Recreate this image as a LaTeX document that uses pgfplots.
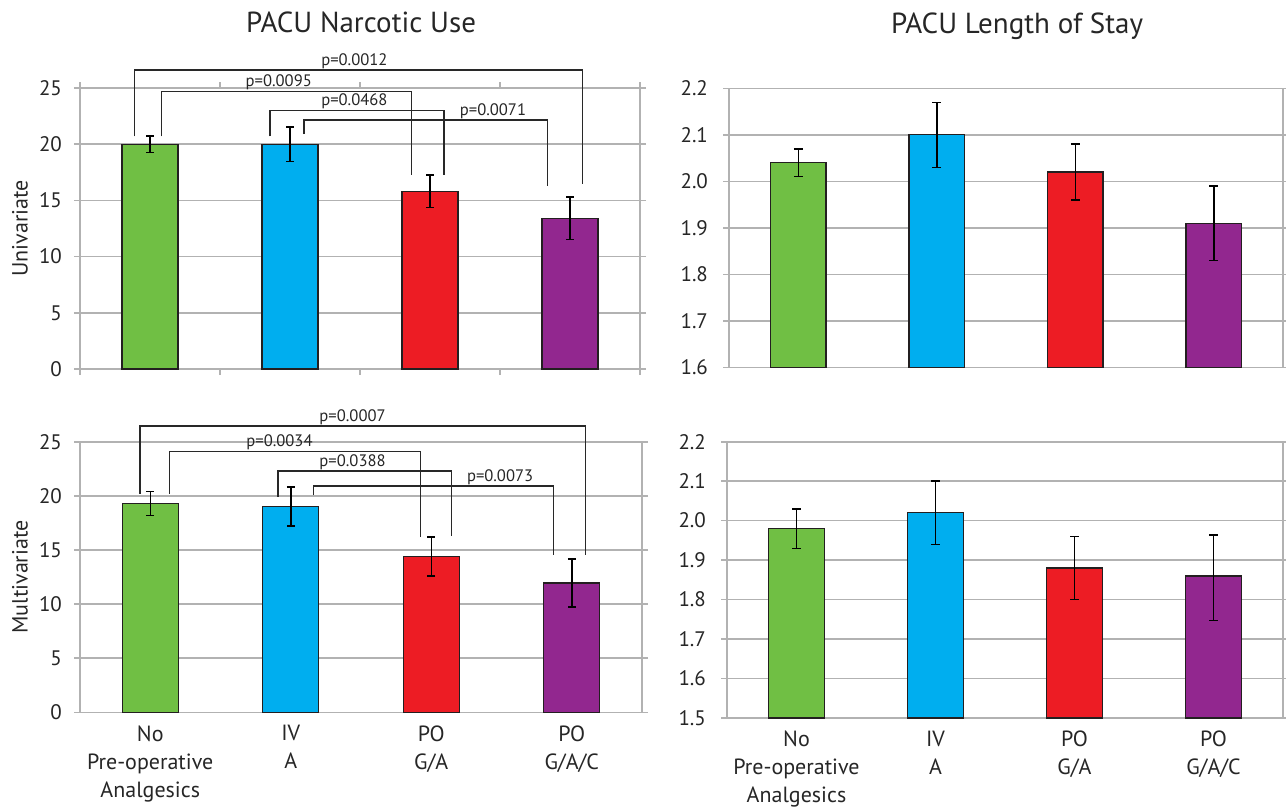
\documentclass[border=0pt]{standalone}
\usepackage{pgfplots}
\pgfplotsset{compat=1.18}
\usepackage{fontspec}
\setmainfont{PT Sans}
\definecolor{cgreen}{RGB}{112,191,68}
\definecolor{cblue}{RGB}{0,174,239}
\definecolor{cred}{RGB}{237,28,36}
\definecolor{cpurple}{RGB}{146,39,143}
\definecolor{cgrid}{RGB}{178,178,178}
\definecolor{cedge}{RGB}{35,31,32}
\definecolor{cbr}{RGB}{40,40,40}

\pgfplotsset{
  panel/.style={
    scale only axis, anchor=south west,
    xmin=-0.5, xmax=3.5,
    ybar, bar shift=0pt, bar width=0.4,
    axis line style={cgrid, line width=0.8pt},
    ymajorgrids, grid style={cgrid, line width=0.8pt},
    tick align=outside,
    major tick length=3pt,
    ytick style={cgrid, line width=0.8pt},
    xtick={-0.5,0.5,1.5,2.5,3.5}, xticklabels={},
    xtick style={cgrid, line width=0.8pt},
    ticklabel style={font=\fontsize{10.5}{12}\selectfont, text=black!85},
    /pgf/number format/assume math mode=true,
    error bars/y dir=both, error bars/y explicit,
    error bars/error bar style={black, line width=0.75pt},
    error bars/error mark options={rotate=90, mark size=1.9pt, line width=0.75pt, black},
  },
  cats/.style={
    extra x ticks={0,1,2,3},
    extra x tick labels={{No\\Pre-operative\\Analgesics},{IV\\A},{PO\\G/A},{PO\\G/A/C}},
    extra x tick style={major tick length=0pt, xticklabel style={align=center, font=\fontsize{11}{14}\selectfont, text=black!85, yshift=-3pt}},
  },
  bgr/.style={fill=cgreen, draw=cedge, line width=0.6pt},
  bbl/.style={fill=cblue, draw=cedge, line width=0.6pt},
  brd/.style={fill=cred, draw=cedge, line width=0.6pt},
  bpu/.style={fill=cpurple, draw=cedge, line width=0.6pt},
  ylab/.style={y label style={at={(axis description cs:-0.107,0.5)}, anchor=center, font=\fontsize{11}{13}\selectfont, text=black!85}},
  dec1/.style={yticklabel style={/pgf/number format/fixed, /pgf/number format/fixed zerofill, /pgf/number format/precision=1}},
}
\tikzset{
  br/.style={cbr, line width=0.65pt},
  pl/.style={font=\fontsize{8.3}{9}\selectfont, text=black!85, anchor=south, inner sep=0.6pt},
}

\begin{document}
\begin{tikzpicture}
\useasboundingbox (0,0) rectangle (643pt,405.5pt);

% ---------- top-left: Narcotic Use, univariate ----------
\begin{axis}[panel, at={(40pt,221pt)}, width=280pt, height=140.5pt,
  ymin=0, ymax=25, ytick={0,5,10,15,20,25}, clip=false,
  yticklabel style={xshift=-2.5pt},
  ylabel={Univariate}, ylab,
  title={PACU Narcotic Use},
  title style={at={(axis description cs:0.502,1.19)}, anchor=center, font=\fontsize{14.5}{16}\selectfont, text=black!85}]
\addplot[bgr] coordinates {(0,20.0) +- (0,0.75)};
\addplot[bbl] coordinates {(1,20.0) +- (0,1.55)};
\addplot[brd] coordinates {(2,15.8) +- (0,1.45)};
\addplot[bpu] coordinates {(3,13.4) +- (0,1.9)};
\draw[br] (axis cs:-0.109,20.7) |- (axis cs:3.09,26.6) -- (axis cs:3.09,16.5);
\draw[br] (axis cs:0.083,20.7) |- (axis cs:1.87,24.66) -- (axis cs:1.87,17.3);
\draw[br] (axis cs:0.858,20.7) |- (axis cs:2.10,23.0) -- (axis cs:2.10,17.3);
\draw[br] (axis cs:1.10,20.9) |- (axis cs:2.84,22.15) -- (axis cs:2.84,16.3);
\node[pl] at (axis cs:1.46,26.6) {p=0.0012};
\node[pl] at (axis cs:0.92,24.66) {p=0.0095};
\node[pl] at (axis cs:1.46,23.0) {p=0.0468};
\node[pl] at (axis cs:2.45,22.15) {p=0.0071};
\end{axis}

% ---------- bottom-left: Narcotic Use, multivariate ----------
\begin{axis}[panel, xtick=\empty, cats, at={(40pt,49.35pt)}, width=281pt, height=135.3pt,
  ymin=0, ymax=25, ytick={0,5,10,15,20,25}, clip=false,
  yticklabel style={xshift=-2.5pt},
  ylabel={Multivariate}, ylab]
\addplot[bgr] coordinates {(0,19.3) +- (0,1.1)};
\addplot[bbl] coordinates {(1,19.0) +- (0,1.8)};
\addplot[brd] coordinates {(2,14.4) +- (0,1.8)};
\addplot[bpu] coordinates {(3,11.95) +- (0,2.2)};
\draw[br] (axis cs:-0.073,20.2) |- (axis cs:3.10,26.45) -- (axis cs:3.10,14.5);
\draw[br] (axis cs:0.138,20.17) |- (axis cs:1.925,24.08) -- (axis cs:1.925,16.2);
\draw[br] (axis cs:0.91,19.9) |- (axis cs:2.146,22.3) -- (axis cs:2.146,16.3);
\draw[br] (axis cs:1.16,20.07) |- (axis cs:2.87,20.9) -- (axis cs:2.87,14.5);
\node[pl] at (axis cs:1.44,26.45) {p=0.0007};
\node[pl] at (axis cs:0.92,24.08) {p=0.0034};
\node[pl] at (axis cs:1.44,22.3) {p=0.0388};
\node[pl] at (axis cs:2.49,20.9) {p=0.0073};
\end{axis}

% ---------- top-right: Length of Stay, univariate ----------
\begin{axis}[panel, xtick=\empty, dec1, at={(364.5pt,221.85pt)}, width=277pt, height=139.5pt,
  ymin=1.6, ymax=2.2, ytick={1.6,1.7,1.8,1.9,2.0,2.1,2.2},
  yticklabel style={xshift=-4pt},
  title={PACU Length of Stay},
  title style={at={(axis description cs:0.52,1.18)}, anchor=center, font=\fontsize{14.5}{16}\selectfont, text=black!85},
  error bars/error mark options={rotate=90, mark size=2.2pt, line width=0.75pt, black}]
\addplot[bgr] coordinates {(0,2.04) +- (0,0.03)};
\addplot[bbl] coordinates {(1,2.10) +- (0,0.07)};
\addplot[brd] coordinates {(2,2.02) +- (0,0.06)};
\addplot[bpu] coordinates {(3,1.91) +- (0,0.08)};
\end{axis}

% ---------- bottom-right: Length of Stay, multivariate ----------
\begin{axis}[panel, xtick=\empty, cats, dec1, at={(363.5pt,46.5pt)}, width=278pt, height=138.15pt,
  ymin=1.5, ymax=2.2, ytick={1.5,1.6,1.7,1.8,1.9,2.0,2.1,2.2},
  yticklabel style={xshift=-4pt},
  error bars/error mark options={rotate=90, mark size=2.2pt, line width=0.75pt, black}]
\addplot[bgr] coordinates {(0,1.98) +- (0,0.05)};
\addplot[bbl] coordinates {(1,2.02) +- (0,0.08)};
\addplot[brd] coordinates {(2,1.88) +- (0,0.08)};
\addplot[bpu] coordinates {(3,1.86) += (0,0.104) -= (0,0.113)};
\end{axis}
\end{tikzpicture}
\end{document}
